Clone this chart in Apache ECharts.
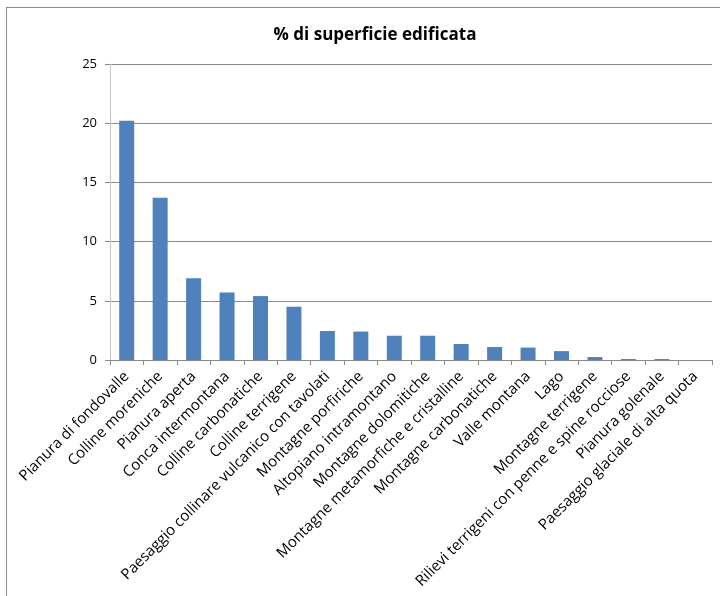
<!DOCTYPE html>
<html>
<head>
<meta charset="utf-8">
<script src="https://cdn.jsdelivr.net/npm/echarts@6/dist/echarts.min.js"></script>
<style>
  html, body { margin: 0; padding: 0; background: #fff; }
  #frame { position: absolute; left: 6px; top: 7px; width: 730px; height: 600px; border: 1px solid #8c8c8c; box-sizing: border-box; }
  #chart { position: absolute; left: 0; top: 0; width: 720px; height: 596px; }
</style>
</head>
<body>
<div id="frame"></div>
<div id="chart"></div>
<script>
const titleText = '% di superficie edificata';
const categories = [
  'Pianura di fondovalle',
  'Colline moreniche',
  'Pianura aperta',
  'Conca intermontana',
  'Colline carbonatiche',
  'Colline terrigene',
  'Paesaggio collinare vulcanico con tavolati',
  'Montagne porfiriche',
  'Altopiano intramontano',
  'Montagne dolomitiche',
  'Montagne metamorfiche e cristalline',
  'Montagne carbonatiche',
  'Valle montana',
  'Lago',
  'Montagne terrigene',
  'Rilievi terrigeni con penne e spine rocciose',
  'Pianura golenale',
  'Paesaggio glaciale di alta quota'
];
const values = [20.2, 13.7, 6.9, 5.7, 5.4, 4.5, 2.45, 2.4, 2.05, 2.05, 1.35, 1.1, 1.05, 0.75, 0.25, 0.08, 0.08, 0];

const fontFamily = '"Open Sans", Lato, sans-serif';
const chart = echarts.init(document.getElementById('chart'), null, { renderer: 'canvas' });
chart.setOption({
  animation: false,
  backgroundColor: 'transparent',
  title: {
    text: titleText,
    left: 370, top: 22, textAlign: 'center',
    textStyle: { fontFamily, fontSize: 17, fontWeight: 'bold', color: '#000' }
  },
  grid: { left: 110, right: 8, top: 64, bottom: 236, containLabel: false },
  xAxis: {
    type: 'category',
    data: categories,
    axisLine: { lineStyle: { color: '#8a8a8a', width: 1 } },
    axisTick: { show: true, length: 5, lineStyle: { color: '#8a8a8a' } },
    axisLabel: { rotate: 45, margin: 14, interval: 0, fontFamily, fontSize: 15, color: '#000' }
  },
  yAxis: {
    type: 'value',
    min: 0, max: 25, interval: 5,
    axisLine: { show: true, lineStyle: { color: '#c8c8c8' } },
    axisTick: { show: true, length: 5, lineStyle: { color: '#8a8a8a' } },
    axisLabel: { margin: 13, fontFamily, fontSize: 13, color: '#000' },
    splitLine: { lineStyle: { color: '#8a8a8a', width: 1 } }
  },
  series: [{
    type: 'bar',
    data: values,
    barWidth: 15,
    itemStyle: { color: '#4f81bd' }
  }]
});
</script>
</body>
</html>
